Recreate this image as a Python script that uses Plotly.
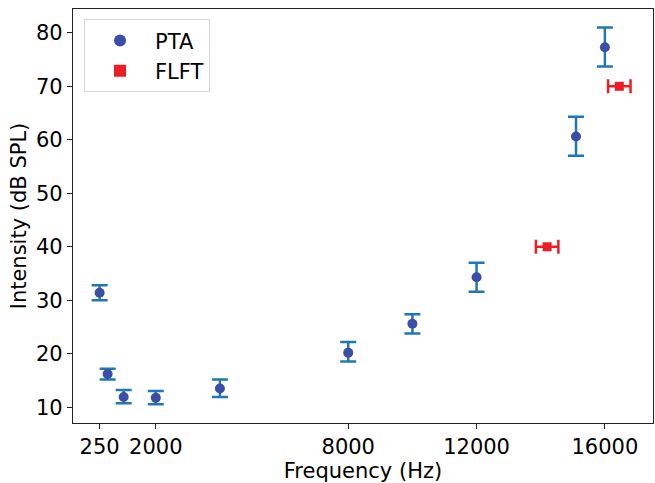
import plotly.graph_objects as go

# PTA data
pta_freq = [250, 500, 1000, 2000, 4000, 8000, 10000, 12000, 15100, 16000]
pta_val = [31.4, 16.2, 11.9, 11.75, 13.5, 20.2, 25.6, 34.3, 60.6, 77.3]
pta_err_plus = [1.4, 1.0, 1.3, 1.3, 1.7, 2.0, 1.8, 2.7, 3.7, 3.7]
pta_err_minus = [1.4, 1.0, 1.15, 1.2, 1.6, 1.65, 1.8, 2.7, 3.6, 3.6]

# FLFT data
flft_freq = [14200, 16450]
flft_val = [40.0, 70.0]
flft_xerr = [350, 350]

xtick_vals = [250, 2000, 8000, 12000, 16000]
ytick_vals = [10, 20, 30, 40, 50, 60, 70, 80]

fig = go.Figure()
fig.add_trace(go.Scatter(
    x=pta_freq, y=pta_val, mode="markers", name="PTA",
    marker=dict(color="#3a4ea8", size=10, symbol="circle"),
    error_y=dict(type="data", symmetric=False, array=pta_err_plus,
                 arrayminus=pta_err_minus, color="#1f77b4", thickness=2.5, width=8),
))
fig.add_trace(go.Scatter(
    x=flft_freq, y=flft_val, mode="markers", name="FLFT",
    marker=dict(color="#ee1c24", size=9, symbol="square"),
    error_x=dict(type="data", array=flft_xerr, color="#ee1c24", thickness=2.5, width=7),
))

font_family = "DejaVu Sans"
fs = 21
fig.update_layout(
    width=655, height=483,
    margin=dict(l=73, r=2, t=9, b=60, autoexpand=False),
    paper_bgcolor="white", plot_bgcolor="white",
    font=dict(family=font_family, size=fs, color="black"),
    showlegend=True,
    legend=dict(x=0.019, y=0.975, xanchor="left", yanchor="top",
                bordercolor="#d8d8d8", borderwidth=1, bgcolor="white",
                font=dict(size=fs), itemsizing="constant", itemwidth=60,
                tracegroupgap=0),
    xaxis=dict(
        range=[-580, 17500], tickvals=xtick_vals, ticktext=[str(v) for v in xtick_vals],
        showgrid=False, zeroline=False, showline=True, linecolor="#222", linewidth=1.3,
        mirror=True, ticks="outside", ticklen=5, tickcolor="#222", automargin=False,
        title=dict(text="Frequency (Hz)", font=dict(size=fs), standoff=2),
    ),
    yaxis=dict(
        range=[7.05, 84.45], tickvals=ytick_vals,
        showgrid=False, zeroline=False, showline=True, linecolor="#222", linewidth=1.3,
        mirror=True, ticks="outside", ticklen=5, tickcolor="#222", automargin=False,
        title=dict(text="Intensity (dB SPL)", font=dict(size=fs), standoff=3),
    ),
)

fig.write_html("out.html", post_script="document.body.style.margin='0';",
               config={"displayModeBar": False})
